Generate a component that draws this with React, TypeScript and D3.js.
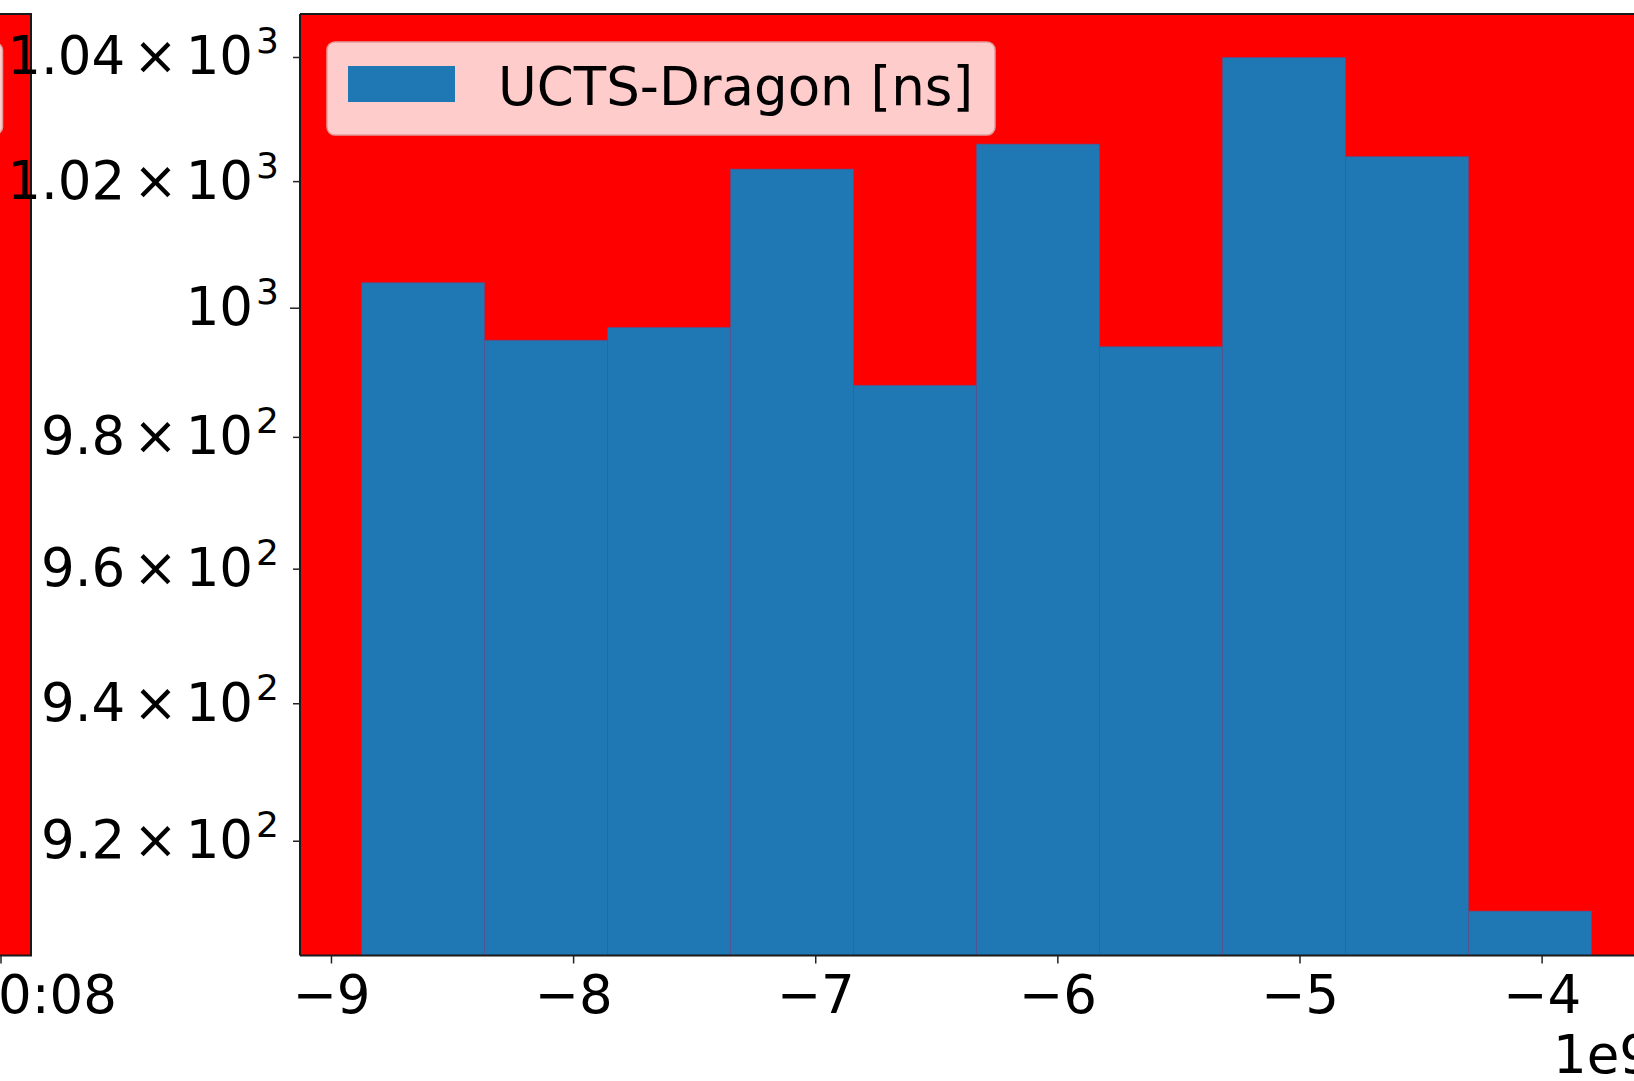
import { useEffect, useRef } from 'react';
import * as d3 from 'd3';

// histogram of UCTS-Dragon time difference, x in units of 1e9 ns
const binEdges = [-8.876, -8.368, -7.86, -7.352, -6.844, -6.336, -5.828, -5.32, -4.812, -4.304, -3.796];
const counts = [1004, 995, 997, 1022, 988, 1026, 994, 1040, 1024, 910];
const xTicks = [-9, -8, -7, -6, -5, -4];
const yTicks = [920, 940, 960, 980, 1000, 1020, 1040];
const majorYTicks = [1000];
const legendLabel = 'UCTS-Dragon [ns]';
const offsetLabel = '1e9';
const neighbourTickLabel = '00:08';

const FONT = '"DejaVu Sans", Verdana, sans-serif';
const FS = 53;

export default function App() {
  const svgRef = useRef<SVGSVGElement>(null);

  useEffect(() => {
    if (!svgRef.current) return;
    const svg = d3.select(svgRef.current);
    svg.selectAll('*').remove();

    const W = 1634;
    const H = 1081;
    const plot = { left: 300, right: 1653, top: 14, bottom: 955.5 };

    const x = d3.scaleLinear().domain([-9.13, -3.542]).range([plot.left, plot.right]);
    const y = d3.scaleLog().domain([903.7, 1047.1]).range([plot.bottom, plot.top]);

    svg.append('rect').attr('width', W).attr('height', H).attr('fill', '#ffffff');

    // neighbouring panel, mostly cut off on the left
    svg
      .append('rect')
      .attr('x', -200)
      .attr('y', plot.top)
      .attr('width', 231)
      .attr('height', plot.bottom - plot.top)
      .attr('fill', '#ff0000')
      .attr('stroke', '#1a1a1a')
      .attr('stroke-width', 2);
    svg
      .append('rect')
      .attr('x', -300)
      .attr('y', 43)
      .attr('width', 302.5)
      .attr('height', 91)
      .attr('rx', 7)
      .attr('fill', '#ffcccc')
      .attr('stroke', '#e29c9c')
      .attr('stroke-width', 1.5);
    svg
      .append('line')
      .attr('x1', 1)
      .attr('x2', 1)
      .attr('y1', plot.bottom)
      .attr('y2', plot.bottom + 8)
      .attr('stroke', '#222')
      .attr('stroke-width', 1.5);
    svg
      .append('text')
      .attr('x', 117)
      .attr('y', 1013)
      .attr('text-anchor', 'end')
      .attr('font-family', FONT)
      .attr('font-size', FS)
      .attr('fill', '#000')
      .text(neighbourTickLabel);

    // main axes background
    svg
      .append('rect')
      .attr('x', plot.left)
      .attr('y', plot.top)
      .attr('width', plot.right - plot.left)
      .attr('height', plot.bottom - plot.top)
      .attr('fill', '#ff0000');

    // bars
    svg
      .append('g')
      .selectAll('rect')
      .data(counts)
      .enter()
      .append('rect')
      .attr('x', (_, i) => x(binEdges[i]))
      .attr('width', (_, i) => x(binEdges[i + 1]) - x(binEdges[i]))
      .attr('y', (d) => y(d))
      .attr('height', (d) => plot.bottom - y(d))
      .attr('fill', '#1f77b4')
      .attr('stroke', '#5a4f8c')
      .attr('stroke-opacity', 0.55)
      .attr('stroke-width', 1);

    // spines (right one is off the page)
    const spine = svg.append('g').attr('stroke', '#1a1a1a').attr('stroke-width', 2);
    spine.append('line').attr('x1', plot.left).attr('x2', plot.left).attr('y1', plot.top).attr('y2', plot.bottom);
    spine.append('line').attr('x1', plot.left).attr('x2', W + 50).attr('y1', plot.top).attr('y2', plot.top);
    spine.append('line').attr('x1', plot.left).attr('x2', W + 50).attr('y1', plot.bottom).attr('y2', plot.bottom);

    // x ticks
    const xg = svg.append('g');
    xTicks.forEach((t) => {
      xg.append('line')
        .attr('x1', x(t))
        .attr('x2', x(t))
        .attr('y1', plot.bottom)
        .attr('y2', plot.bottom + 8)
        .attr('stroke', '#222')
        .attr('stroke-width', 1.5);
      xg.append('text')
        .attr('x', x(t))
        .attr('y', 1013)
        .attr('text-anchor', 'middle')
        .attr('font-family', FONT)
        .attr('font-size', FS)
        .attr('fill', '#000')
        .text(`\u2212${Math.abs(t)}`);
    });
    svg
      .append('text')
      .attr('x', plot.right)
      .attr('y', 1073)
      .attr('text-anchor', 'end')
      .attr('font-family', FONT)
      .attr('font-size', FS)
      .attr('fill', '#000')
      .text(offsetLabel);

    // y ticks, log scale with scientific labels
    const yg = svg.append('g');
    yTicks.forEach((v) => {
      const major = majorYTicks.includes(v);
      yg.append('line')
        .attr('x1', plot.left - (major ? 10 : 7))
        .attr('x2', plot.left)
        .attr('y1', y(v))
        .attr('y2', y(v))
        .attr('stroke', '#222')
        .attr('stroke-width', 1.5);
      const exp = Math.floor(Math.log10(v) + 1e-9);
      const mant = +(v / Math.pow(10, exp)).toFixed(2);
      const label = yg
        .append('text')
        .attr('x', 279)
        .attr('y', y(v) + 17)
        .attr('text-anchor', 'end')
        .attr('font-family', FONT)
        .attr('font-size', FS)
        .attr('fill', '#000');
      if (mant !== 1) {
        label.append('tspan').text(String(mant));
        label.append('tspan').attr('dx', 8).text('\u00d7');
        label.append('tspan').attr('dx', 8).text('10');
      } else {
        label.append('tspan').text('10');
      }
      label.append('tspan').attr('dx', 3).attr('dy', -21).attr('font-size', 36).text(String(exp));
    });

    // legend
    const lg = svg.append('g');
    lg.append('rect')
      .attr('x', 327)
      .attr('y', 42)
      .attr('width', 668)
      .attr('height', 93)
      .attr('rx', 8)
      .attr('fill', '#ffcccc')
      .attr('stroke', '#e29c9c')
      .attr('stroke-width', 1.5);
    lg.append('rect')
      .attr('x', 348)
      .attr('y', 66)
      .attr('width', 107)
      .attr('height', 36)
      .attr('fill', '#1f77b4');
    lg.append('text')
      .attr('x', 498)
      .attr('y', 105)
      .attr('font-family', FONT)
      .attr('font-size', FS)
      .attr('fill', '#000')
      .text(legendLabel);
  }, []);

  return (
    <div style={{ position: 'absolute', left: 0, top: 0 }}>
      <svg ref={svgRef} width={1634} height={1081} style={{ display: 'block' }} />
    </div>
  );
}
